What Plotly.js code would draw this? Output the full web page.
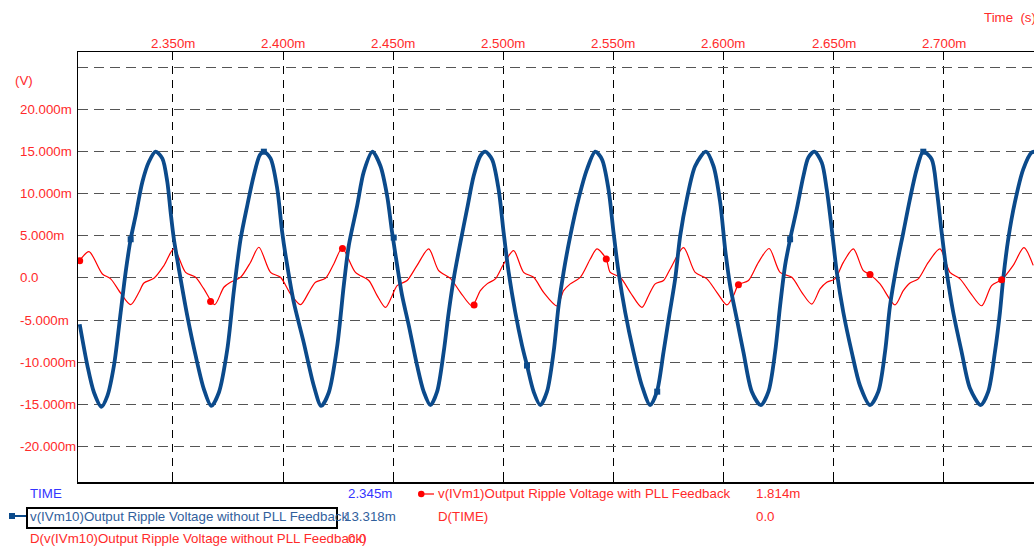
<!DOCTYPE html>
<html>
<head>
<meta charset="utf-8">
<script src="https://cdn.plot.ly/plotly-3.0.1.min.js"></script>
<style>html,body{margin:0;padding:0;background:#fff;}#chart{width:1034px;height:546px;}</style>
</head>
<body>
<div id="chart"></div>
<script>
// ---- data (time in ms, voltage in mV) ----
const xTickVals = [2.35, 2.40, 2.45, 2.50, 2.55, 2.60, 2.65, 2.70];
const xTickText = ["2.350m", "2.400m", "2.450m", "2.500m", "2.550m", "2.600m", "2.650m", "2.700m"];
const yTickVals = [-20, -15, -10, -5, 0, 5, 10, 15, 20, 25];
const yTickText = ["-20.000m", "-15.000m", "-10.000m", "-5.000m", "0.0", "5.000m", "10.000m", "15.000m", "20.000m", ""];

const blueT = [2.30767,2.31116,2.31416,2.31752,2.32024,2.32323,2.32627,2.32854,2.33081,2.33308,2.33612,2.33911,2.34215,2.34519,2.34746,2.34896,2.35045,2.35349,2.35653,2.36030,2.36406,2.36742,2.37087,2.37468,2.37768,2.38072,2.38375,2.38675,2.38947,2.39129,2.39433,2.39737,2.39963,2.40190,2.40490,2.40943,2.41397,2.41733,2.42078,2.42459,2.42758,2.42985,2.43366,2.43666,2.44060,2.44423,2.44727,2.44954,2.45181,2.45408,2.45707,2.46088,2.46388,2.46692,2.46996,2.47295,2.47522,2.47749,2.48053,2.48357,2.48656,2.48960,2.49187,2.49491,2.49791,2.50017,2.50244,2.50548,2.50852,2.51079,2.51379,2.51683,2.51986,2.52286,2.52513,2.52740,2.53044,2.53420,2.53801,2.54178,2.54482,2.54781,2.55008,2.55235,2.55539,2.55915,2.56297,2.56673,2.56977,2.57277,2.57535,2.57807,2.58034,2.58338,2.58715,2.59200,2.59545,2.59849,2.60076,2.60303,2.60607,2.60906,2.61287,2.61696,2.62041,2.62345,2.62571,2.62798,2.63025,2.63329,2.63628,2.63855,2.64128,2.64463,2.64690,2.64917,2.65144,2.65443,2.65824,2.66201,2.66655,2.67031,2.67335,2.67562,2.67866,2.68165,2.68469,2.68773,2.69073,2.69454,2.69681,2.69908,2.70135,2.70434,2.70815,2.71192,2.71677,2.72022,2.72326,2.72553,2.72702,2.72929,2.73233,2.73610,2.73991,2.74186];
const blueV = [-5.5,-10.4,-13.6,-15.3,-14.0,-10.4,-4.1,0.7,4.6,7.4,11.4,13.8,15.0,14.2,11.4,7.8,4.6,-0.1,-4.5,-9.2,-13.2,-15.2,-13.6,-8.5,-1.5,4.6,8.6,12.2,14.6,15.0,14.2,10.6,5.4,1.5,-2.9,-7.7,-12.8,-15.2,-13.6,-8.1,-0.9,3.85,8.6,12.6,15.0,13.3,9.75,5.4,1.5,-2.1,-5.6,-10.4,-13.5,-15.1,-13.5,-8.8,-4.1,-0.1,4.2,8.2,12.1,14.5,15.0,14.1,10.5,5.4,0.7,-4.1,-8.0,-10.4,-13.5,-15.1,-13.5,-8.8,-3.3,0.7,5.0,9.4,12.9,15.0,14.1,10.5,5.4,0.7,-4.1,-8.8,-12.8,-15.1,-13.5,-8.8,-4.5,-0.1,5.0,9.4,13.3,15.0,13.3,9.0,3.4,-0.9,-4.9,-8.8,-13.5,-15.1,-13.5,-8.8,-3.3,1.5,4.6,8.2,12.1,14.3,15.0,13.7,10.5,5.8,0.7,-4.1,-8.8,-12.8,-15.1,-13.5,-8.8,-3.3,1.5,5.4,9.4,12.9,15.0,14.1,10.5,5.4,0.7,-4.1,-8.8,-13.1,-15.1,-13.5,-8.8,-4.1,-0.1,4.6,9.0,12.9,14.9,15.0];

const redT = [2.30767,2.31189,2.31797,2.32173,2.32627,2.33081,2.33457,2.33684,2.34138,2.34592,2.35045,2.35576,2.36030,2.36406,2.36892,2.37314,2.37618,2.38072,2.38525,2.38902,2.39433,2.39886,2.40340,2.40794,2.41170,2.41474,2.41928,2.42305,2.42686,2.43289,2.43893,2.44274,2.44650,2.44954,2.45181,2.45635,2.46088,2.46615,2.47068,2.47599,2.48053,2.48584,2.48960,2.49264,2.49641,2.50017,2.50471,2.50925,2.51379,2.51832,2.52440,2.52740,2.53044,2.53497,2.53951,2.54255,2.54677,2.54858,2.55312,2.55766,2.56297,2.56596,2.56900,2.57277,2.57581,2.58184,2.58715,2.59246,2.59699,2.60153,2.60453,2.60679,2.61133,2.61587,2.62072,2.62571,2.63102,2.63556,2.64010,2.64386,2.64690,2.65067,2.65443,2.65897,2.66351,2.66655,2.67108,2.67789,2.68165,2.68469,2.68846,2.69300,2.69831,2.70284,2.70738,2.71192,2.71722,2.72176,2.72630,2.73156,2.73642,2.74064];
const redV = [2.06,3.13,0.48,-0.1,-1.8,-3.17,-1.7,-0.6,-0.04,1.47,3.45,0.67,0.08,-1.3,-3.17,-1.1,-0.5,0.08,1.87,3.65,0.67,0.08,-1.9,-3.17,-1.7,-0.5,-0.04,1.67,3.53,0.67,-0.3,-2.1,-3.5,-2.1,-0.9,-0.3,1.5,3.45,0.87,-0.04,-1.7,-3.3,-1.5,-0.7,-0.1,1.66,3.24,0.67,0.08,-1.7,-3.3,-1.5,-0.7,0.08,2.25,3.45,2.25,0.67,0.08,-1.7,-3.5,-2.1,-0.7,-0.3,1.07,3.6,0.67,-0.1,-1.7,-3.2,-2.1,-0.8,-0.3,1.86,3.5,0.67,0.08,-1.7,-3.1,-1.3,-0.5,-0.1,1.86,3.45,0.87,0.4,-0.7,-3.2,-1.5,-0.6,-0.1,1.86,3.45,0.67,-0.1,-1.7,-3.3,-0.9,-0.2,1.5,3.6,1.5];

const blueMarkT = [2.33081,2.39129,2.45027,2.51079,2.56991,2.63025,2.69073];
const blueMarkV = [4.6,15.0,4.8,-10.4,-13.5,4.6,15.0];
const redMarkT = [2.30767,2.36710,2.42699,2.48675,2.54677,2.60679,2.66655,2.72630];
const redMarkV = [2.06,-2.8,3.5,-3.2,2.25,-0.8,0.4,-0.2];

const legendRows = [
  {text: "TIME", value: "2.345m", color: "#3434ff"},
  {text: "v(IVm10)Output Ripple Voltage without PLL Feedback", value: "13.318m", color: "#31609c"},
  {text: "D(v(IVm10)Output Ripple Voltage without PLL Feedback)", value: "0.0", color: "#ff2a2a"}
];
const legendRows2 = [
  {text: "v(IVm1)Output Ripple Voltage with PLL Feedback", value: "1.814m", color: "#ff2a2a"},
  {text: "D(TIME)", value: "0.0", color: "#ff2a2a"}
];

// ---- layout helpers (pixel -> paper) ----
const L = 78, T = 52, W = 956, H = 430;
const px = x => (x - L) / W;
const py = y => (T + H - y) / H;

const RED = "#ff2a2a";
const BLUE = "#0b4a8b";
const FONT = "Liberation Sans, Arial, sans-serif";
const FS = 13.3;

const traces = [
  {x: redT, y: redV, type: "scatter", mode: "lines", line: {color: "#ff0000", width: 1.2, shape: "spline", smoothing: 0.8}, hoverinfo: "skip"},
  {x: blueT, y: blueV, type: "scatter", mode: "lines", line: {color: BLUE, width: 3.8, shape: "spline", smoothing: 0.8}, hoverinfo: "skip"},
  {x: redMarkT, y: redMarkV, type: "scatter", mode: "markers", marker: {color: "#ff0000", size: 7, symbol: "circle"}, hoverinfo: "skip"},
  {x: blueMarkT, y: blueMarkV, type: "scatter", mode: "markers", marker: {color: BLUE, size: 6, symbol: "square"}, hoverinfo: "skip"}
];

const annotations = [];
yTickVals.forEach((v, i) => {
  if (yTickText[i] === "") return;
  annotations.push({xref: "paper", yref: "y", x: px(18), y: v, xanchor: "left", yanchor: "middle",
    text: yTickText[i], showarrow: false, font: {family: FONT, size: FS, color: RED}});
});
xTickVals.forEach((v, i) => {
  annotations.push({xref: "x", yref: "paper", x: v, y: py(43), xanchor: "center", yanchor: "middle",
    text: xTickText[i], showarrow: false, font: {family: FONT, size: FS, color: RED}});
});
annotations.push({xref: "paper", yref: "paper", x: px(13), y: py(80), xanchor: "left", yanchor: "middle",
  text: "(V)", showarrow: false, font: {family: FONT, size: FS, color: RED}});
annotations.push({xref: "paper", yref: "paper", x: px(982), y: py(17), xanchor: "left", yanchor: "middle",
  text: "Time  (s)", showarrow: false, font: {family: FONT, size: FS, color: RED}});

const rowY = [494, 516, 538];
const valX = [346, 342, 346];
legendRows.forEach((r, i) => {
  annotations.push({xref: "paper", yref: "paper", x: px(28), y: py(rowY[i]), xanchor: "left", yanchor: "middle",
    text: r.text, showarrow: false, font: {family: FONT, size: FS, color: r.color}});
  annotations.push({xref: "paper", yref: "paper", x: px(valX[i]), y: py(rowY[i]), xanchor: "left", yanchor: "middle",
    text: r.value, showarrow: false, font: {family: FONT, size: FS, color: r.color}});
});
legendRows2.forEach((r, i) => {
  annotations.push({xref: "paper", yref: "paper", x: px(436), y: py(rowY[i]), xanchor: "left", yanchor: "middle",
    text: r.text, showarrow: false, font: {family: FONT, size: FS, color: r.color}});
  annotations.push({xref: "paper", yref: "paper", x: px(754), y: py(rowY[i]), xanchor: "left", yanchor: "middle",
    text: r.value, showarrow: false, font: {family: FONT, size: FS, color: r.color}});
});

const shapes = [
  // red legend icon
  {type: "line", xref: "paper", yref: "paper", x0: px(421), x1: px(434), y0: py(494), y1: py(494), line: {color: "#ff0000", width: 1.2}},
  {type: "circle", xref: "paper", yref: "paper", x0: px(418), x1: px(424.5), y0: py(490.8), y1: py(497.2), fillcolor: "#ff0000", line: {width: 0}},
  // blue legend icon
  {type: "line", xref: "paper", yref: "paper", x0: px(14), x1: px(27), y0: py(516), y1: py(516), line: {color: BLUE, width: 2}},
  {type: "rect", xref: "paper", yref: "paper", x0: px(9), x1: px(15), y0: py(513), y1: py(519), fillcolor: BLUE, line: {width: 0}},
  // selection box
  {type: "rect", xref: "paper", yref: "paper", x0: px(27), x1: px(337), y0: py(508), y1: py(528), line: {color: "#000", width: 2}}
];

const layout = {
  width: 1034, height: 546,
  margin: {l: L, r: 0, t: T, b: 546 - T - H, pad: 0},
  paper_bgcolor: "#fff", plot_bgcolor: "#fff",
  showlegend: false,
  font: {family: FONT, size: FS, color: RED},
  xaxis: {
    side: "top", range: [2.3069, 2.7410],
    tickmode: "array", tickvals: xTickVals, ticktext: xTickText,
    showticklabels: false,
    showgrid: true, gridcolor: "#000", gridwidth: 1, griddash: "8px,6px",
    showline: true, linecolor: "#000", linewidth: 1.5, mirror: "ticks",
    ticks: "inside", ticklen: 7, tickcolor: "#000", tickwidth: 1,
    zeroline: false, fixedrange: true
  },
  yaxis: {
    range: [-24.23, 26.84],
    tickmode: "array", tickvals: yTickVals, ticktext: yTickText,
    showticklabels: false,
    showgrid: true, gridcolor: "#555", gridwidth: 1, griddash: "10px,6px",
    showline: true, linecolor: "#000", linewidth: 1.5,
    ticks: "", zeroline: false, fixedrange: true
  },
  annotations: annotations,
  shapes: shapes
};

Plotly.newPlot("chart", traces, layout, {staticPlot: true, displayModeBar: false});
</script>
</body>
</html>
